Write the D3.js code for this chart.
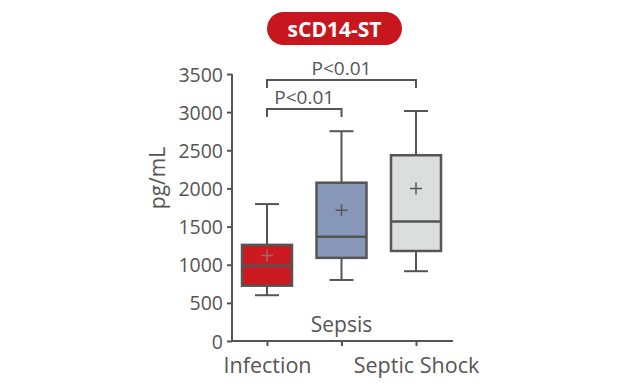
<!DOCTYPE html>
<html>
<head>
<meta charset="utf-8">
<script src="https://cdn.jsdelivr.net/npm/d3@7"></script>
<style>
  body { margin: 0; background: #fff; }
  text { font-family: "Open Sans", "Noto Sans", sans-serif; fill: #555; }
</style>
</head>
<body>
<div class="chart"></div>
<script>
var svgWidth = 630;
var svgHeight = 383;

// data
var groups = ["Infection", "Sepsis", "Septic Shock"];
var whiskerMin = [600, 800, 915];
var q1 = [725, 1090, 1180];
var median = [985, 1365, 1565];
var q3 = [1260, 2075, 2435];
var whiskerMax = [1795, 2750, 3015];
var means = [1120, 1715, 2000];
var fills = ["#cc1a20", "#8797b9", "#dcdedd"];
var yTicks = [0, 500, 1000, 1500, 2000, 2500, 3000, 3500];

// significance brackets
var brackets = [
  { from: 0, to: 1, value: 3040, label: "P<0.01" },
  { from: 0, to: 2, value: 3420, label: "P<0.01" }
];

var margin = { top: 74, right: 177, bottom: 42, left: 232 };
var width = svgWidth - margin.left - margin.right;
var height = svgHeight - margin.top - margin.bottom;

var svg = d3.select(".chart")
  .append("svg")
  .attr("width", svgWidth)
  .attr("height", svgHeight);

var chartGroup = svg.append("g")
  .attr("transform", `translate(${margin.left}, ${margin.top})`);

var xScale = d3.scalePoint()
  .domain(groups)
  .range([35, 184]);

var yScale = d3.scaleLinear()
  .domain([0, 3500])
  .range([height, 0]);

var boxW = 50;
var ink = "#555";

// axes
var leftAxis = d3.axisLeft(yScale).tickValues(yTicks).tickSize(5).tickSizeOuter(0)
  .tickFormat(d3.format("d"));
var bottomAxis = d3.axisBottom(xScale).tickSize(5).tickSizeOuter(0)
  .tickFormat(d => d === "Sepsis" ? "" : d);

var yAxisG = chartGroup.append("g").call(leftAxis);
yAxisG.select(".domain").remove();
yAxisG.append("line")
  .attr("x1", 0).attr("x2", 0)
  .attr("y1", 0).attr("y2", height + 1)
  .attr("stroke", ink).attr("stroke-width", 2);
yAxisG.selectAll(".tick line").attr("stroke", ink).attr("stroke-width", 2);
yAxisG.selectAll(".tick text")
  .attr("x", -9)
  .attr("dy", "0.36em")
  .style("font-size", "19.5px")
  .style("font-family", "'Open Sans', sans-serif")
  .attr("fill", ink);

var xAxisG = chartGroup.append("g")
  .attr("transform", `translate(0, ${height})`)
  .call(bottomAxis);
xAxisG.select(".domain").remove();
xAxisG.append("line")
  .attr("x1", -1).attr("x2", width)
  .attr("y1", 0).attr("y2", 0)
  .attr("stroke", ink).attr("stroke-width", 2);
xAxisG.selectAll(".tick line").attr("stroke", ink).attr("stroke-width", 2);
xAxisG.selectAll(".tick text")
  .attr("y", 32)
  .attr("dy", 0)
  .style("font-size", "21.5px")
  .style("font-family", "'Open Sans', sans-serif")
  .attr("fill", ink);

// middle label sits inside the plot
chartGroup.append("text")
  .attr("x", xScale("Sepsis"))
  .attr("y", height - 9)
  .attr("text-anchor", "middle")
  .style("font-size", "21px")
  .text("Sepsis");

// y label
chartGroup.append("text")
  .attr("transform", "rotate(-90)")
  .attr("x", -104)
  .attr("y", -67)
  .attr("text-anchor", "middle")
  .style("font-size", "21px")
  .text("pg/mL");

// whiskers and boxes
var boxes = chartGroup.selectAll(".box")
  .data(groups)
  .enter()
  .append("g")
  .attr("class", "box");

boxes.append("line")
  .attr("x1", d => xScale(d)).attr("x2", d => xScale(d))
  .attr("y1", (d, i) => yScale(whiskerMax[i]))
  .attr("y2", (d, i) => yScale(whiskerMin[i]))
  .attr("stroke", ink).attr("stroke-width", 2);

boxes.selectAll(".cap")
  .data((d, i) => [{ x: xScale(d), v: whiskerMax[i] }, { x: xScale(d), v: whiskerMin[i] }])
  .enter()
  .append("line")
  .attr("x1", d => d.x - 12).attr("x2", d => d.x + 12)
  .attr("y1", d => yScale(d.v)).attr("y2", d => yScale(d.v))
  .attr("stroke", ink).attr("stroke-width", 2);

boxes.append("rect")
  .attr("x", d => xScale(d) - boxW / 2)
  .attr("width", boxW)
  .attr("y", (d, i) => yScale(q3[i]))
  .attr("height", (d, i) => yScale(q1[i]) - yScale(q3[i]))
  .attr("fill", (d, i) => fills[i])
  .attr("stroke", ink).attr("stroke-width", 2.5);

boxes.append("line")
  .attr("x1", d => xScale(d) - boxW / 2).attr("x2", d => xScale(d) + boxW / 2)
  .attr("y1", (d, i) => yScale(median[i])).attr("y2", (d, i) => yScale(median[i]))
  .attr("stroke", ink).attr("stroke-width", 2.5);

// mean markers
boxes.append("path")
  .attr("d", (d, i) => {
    var cx = xScale(d), cy = yScale(means[i]);
    return `M${cx - 6},${cy}H${cx + 6}M${cx},${cy - 6}V${cy + 6}`;
  })
  .attr("stroke", (d, i) => i === 0 ? "#9a6a6a" : ink)
  .attr("stroke-width", 1.5)
  .attr("fill", "none");

// brackets
var br = chartGroup.selectAll(".bracket")
  .data(brackets)
  .enter()
  .append("g");

br.append("path")
  .attr("d", d => {
    var x1 = xScale(groups[d.from]), x2 = xScale(groups[d.to]), y = yScale(d.value);
    return `M${x1},${y + 8}V${y}H${x2}V${y + 8}`;
  })
  .attr("fill", "none")
  .attr("stroke", ink).attr("stroke-width", 2);

br.append("text")
  .attr("x", d => (xScale(groups[d.from]) + xScale(groups[d.to])) / 2)
  .attr("y", d => yScale(d.value) - 5)
  .attr("text-anchor", "middle")
  .style("font-size", "19px")
  .text(d => d.label);

// title pill
var title = svg.append("g");
title.append("rect")
  .attr("x", 267).attr("y", 12)
  .attr("width", 135).attr("height", 33)
  .attr("rx", 16.5)
  .attr("fill", "#c8161e");
title.append("text")
  .attr("x", 334.5).attr("y", 36.5)
  .attr("text-anchor", "middle")
  .style("font-size", "21px")
  .style("font-weight", "bold")
  .style("fill", "#fff")
  .text("sCD14-ST");
</script>
</body>
</html>
